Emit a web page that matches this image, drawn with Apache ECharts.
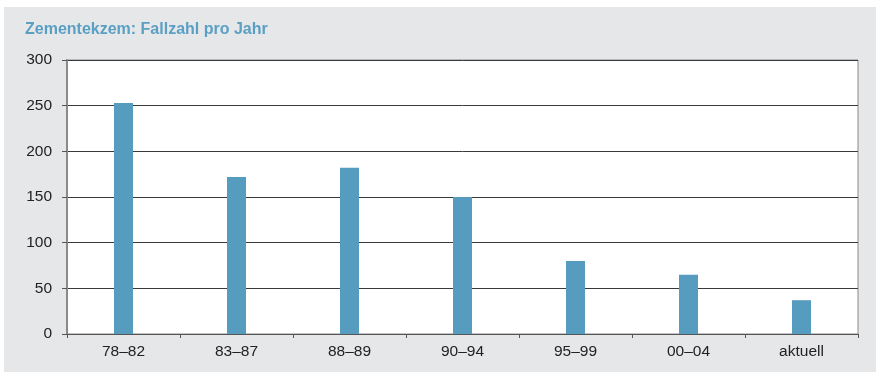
<!DOCTYPE html>
<html>
<head>
<meta charset="utf-8">
<script src="https://cdn.jsdelivr.net/npm/echarts@6/dist/echarts.min.js"></script>
<style>
  html, body { margin: 0; padding: 0; background: #ffffff; }
  #chart { width: 880px; height: 374px; }
</style>
</head>
<body>
<div id="chart"></div>
<script>
// Zeiträume und Fallzahlen pro Jahr
const categories = ['78–82', '83–87', '88–89', '90–94', '95–99', '00–04', 'aktuell'];
const caseCounts = [253, 172, 182, 150, 80, 65, 37];
const yTicks = { min: 0, max: 300, interval: 50 };
const titleText = 'Zementekzem: Fallzahl pro Jahr';

const chart = echarts.init(document.getElementById('chart'), null, { renderer: 'canvas' });

chart.setOption({
  backgroundColor: '#ffffff',
  animation: false,
  graphic: [
    {
      type: 'rect',
      z: -10,
      shape: { x: 4, y: 7, width: 872, height: 365 },
      style: { fill: '#e6e7e9' }
    }
  ],
  title: {
    text: titleText,
    left: 25,
    top: 22,
    padding: 0,
    textStyle: {
      fontFamily: 'Liberation Sans, Arial, sans-serif',
      fontSize: 16,
      fontWeight: 'bold',
      color: '#5a9fc4'
    }
  },
  grid: {
    left: 67,
    right: 22,
    top: 60,
    bottom: 40,
    show: true,
    backgroundColor: '#ffffff',
    borderColor: '#8a8a8a',
    borderWidth: 1
  },
  xAxis: {
    type: 'category',
    data: categories,
    axisLine: { show: true, lineStyle: { color: '#555555', width: 1 } },
    axisTick: { show: true, alignWithLabel: false, length: 4, lineStyle: { color: '#555555' } },
    axisLabel: {
      margin: 10,
      fontFamily: 'Liberation Sans, Arial, sans-serif',
      fontSize: 15.5,
      color: '#222222'
    },
    splitLine: { show: false }
  },
  yAxis: {
    type: 'value',
    min: yTicks.min,
    max: yTicks.max,
    interval: yTicks.interval,
    axisLine: { show: true, lineStyle: { color: '#8a8a8a', width: 2 } },
    axisTick: { show: true, length: 5, lineStyle: { color: '#555555' } },
    axisLabel: {
      margin: 15,
      fontFamily: 'Liberation Sans, Arial, sans-serif',
      fontSize: 15.5,
      color: '#222222'
    },
    splitLine: { show: true, lineStyle: { color: '#3a3a3a', width: 1 } }
  },
  series: [
    {
      type: 'bar',
      data: caseCounts,
      barWidth: 19,
      itemStyle: { color: '#559cbf' }
    }
  ]
});
</script>
</body>
</html>
